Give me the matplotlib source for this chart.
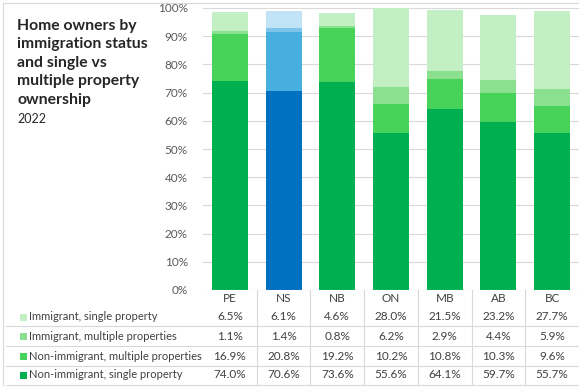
import matplotlib
matplotlib.use("Agg")
import matplotlib.pyplot as plt
from matplotlib.lines import Line2D
from matplotlib.patches import Rectangle
from matplotlib.transforms import blended_transform_factory

plt.rcParams['font.family'] = ['Lato', 'DejaVu Sans']

categories = ["PE", "NS", "NB", "ON", "MB", "AB", "BC"]
series_names = ["Immigrant, single property",
                "Immigrant, multiple properties",
                "Non-immigrant, multiple properties",
                "Non-immigrant, single property"]
imm_single = [6.5, 6.1, 4.6, 28.0, 21.5, 23.2, 27.7]
imm_multi = [1.1, 1.4, 0.8, 6.2, 2.9, 4.4, 5.9]
non_multi = [16.9, 20.8, 19.2, 10.2, 10.8, 10.3, 9.6]
non_single = [74.0, 70.6, 73.6, 55.6, 64.1, 59.7, 55.7]
yticks = [0, 10, 20, 30, 40, 50, 60, 70, 80, 90, 100]

title = "Home owners by\nimmigration status\nand single vs\nmultiple property\nownership"
subtitle = "2022"

green = {"imm_single": "#C3EFC5", "imm_multi": "#8BE08F",
         "non_multi": "#47D35A", "non_single": "#00B050"}
blue = {"imm_single": "#C1E3F6", "imm_multi": "#7DC3EC",
        "non_multi": "#47AEE0", "non_single": "#0070C0"}
highlight = "NS"

W, H = 579, 389
fig = plt.figure(figsize=(W / 100, H / 100), dpi=100)
fig.patch.set_facecolor("white")

def fy(py):
    return 1 - py / H

def fx(px):
    return px / W

ax = fig.add_axes([fx(203), fy(290), fx(579) - fx(203), fy(8) - fy(290)])

x = list(range(len(categories)))
order = [("non_single", non_single), ("non_multi", non_multi),
         ("imm_multi", imm_multi), ("imm_single", imm_single)]
bottoms = [0.0] * len(categories)
for key, vals in order:
    cols = [blue[key] if c == highlight else green[key] for c in categories]
    ax.bar(x, vals, width=0.67, bottom=bottoms, color=cols, zorder=3)
    bottoms = [b + v for b, v in zip(bottoms, vals)]

ax.set_xlim(-0.5, len(categories) - 0.5)
ax.set_ylim(0, 100)
ax.set_yticks(yticks)
ax.set_yticklabels([f"{t}%" for t in yticks], fontsize=8.5, color="#595959")
ax.set_xticks([])
ax.tick_params(axis="y", length=0, pad=11)
ax.grid(axis="y", color="#D9D9D9", linewidth=0.8, zorder=0)
for s in ax.spines.values():
    s.set_visible(False)
ax.axhline(0, color="#D9D9D9", linewidth=0.8, zorder=4)

# data table
tr = blended_transform_factory(ax.transData, fig.transFigure)
header_y = 299
row_ys = [317, 336, 356, 375]
for i, c in enumerate(categories):
    ax.text(i, fy(header_y), c, transform=tr, ha="center", va="center",
            fontsize=8.5, color="#404040")
rows = [("imm_single", imm_single), ("imm_multi", imm_multi),
        ("non_multi", non_multi), ("non_single", non_single)]
for (key, vals), name, ry in zip(rows, series_names, row_ys):
    for i, v in enumerate(vals):
        ax.text(i, fy(ry), f"{v:.1f}%", transform=tr, ha="center", va="center",
                fontsize=8.5, color="#404040")
    fig.add_artist(Rectangle((fx(20), fy(ry + 3.5)), fx(7), fy(0) - fy(7),
                             transform=fig.transFigure, color=green[key], lw=0))
    fig.text(fx(29), fy(ry), name, ha="left", va="center", fontsize=8,
             color="#404040")

for ly in [326, 346, 366, 385]:
    fig.add_artist(Line2D([fx(6), fx(579)], [fy(ly), fy(ly)],
                          color="#D9D9D9", linewidth=0.8))
for i in range(len(categories) - 1):
    fig.add_artist(Line2D([i + 0.5, i + 0.5], [fy(290), fy(385)], color="#D9D9D9",
                          linewidth=0.8, transform=tr))

# figure border (left and top)
fig.add_artist(Line2D([fx(3), fx(579)], [fy(3), fy(3)], color="#D9D9D9", linewidth=0.8))
fig.add_artist(Line2D([fx(3), fx(3)], [fy(3), fy(385)], color="#D9D9D9", linewidth=0.8))

fig.text(fx(17), fy(19), title, ha="left", va="top", fontsize=11.3,
         fontweight="bold", color="#262626", linespacing=1.4)
fig.text(fx(17), fy(119), subtitle, ha="left", va="center", fontsize=9,
         color="#262626")

fig.savefig("out.png", dpi=100, facecolor="white")
